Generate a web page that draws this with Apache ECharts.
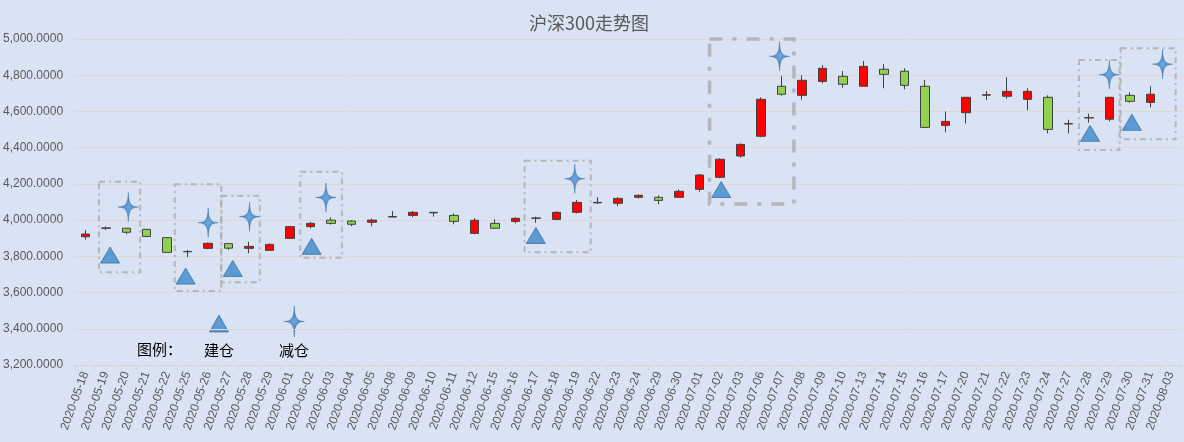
<!DOCTYPE html>
<html>
<head>
    <meta charset="utf-8">
    <title>沪深300走势图</title>
    <script src="https://cdn.jsdelivr.net/npm/echarts@6/dist/echarts.min.js"></script>
    <style>
        html, body { margin: 0; padding: 0; background: #DAE3F3; }
        #chart_box { width: 1184px; height: 442px; }
    </style>
</head>
<body>
    <div id="chart_box"></div>
    <script>
        // 交易日
        var dates = ['2020-05-18', '2020-05-19', '2020-05-20', '2020-05-21', '2020-05-22', '2020-05-25', '2020-05-26',
            '2020-05-27', '2020-05-28', '2020-05-29', '2020-06-01', '2020-06-02', '2020-06-03', '2020-06-04',
            '2020-06-05', '2020-06-08', '2020-06-09', '2020-06-10', '2020-06-11', '2020-06-12', '2020-06-15',
            '2020-06-16', '2020-06-17', '2020-06-18', '2020-06-19', '2020-06-22', '2020-06-23', '2020-06-24',
            '2020-06-29', '2020-06-30', '2020-07-01', '2020-07-02', '2020-07-03', '2020-07-06', '2020-07-07',
            '2020-07-08', '2020-07-09', '2020-07-10', '2020-07-13', '2020-07-14', '2020-07-15', '2020-07-16',
            '2020-07-17', '2020-07-20', '2020-07-21', '2020-07-22', '2020-07-23', '2020-07-24', '2020-07-27',
            '2020-07-28', '2020-07-29', '2020-07-30', '2020-07-31', '2020-08-03'];
        // 开盘, 收盘, 最低, 最高
        var kData = [
            [3908, 3923, 3892, 3945], [3955, 3957, 3945, 3965], [3955, 3933, 3921, 3957], [3949, 3910, 3905, 3950],
            [3903, 3822, 3820, 3905], [3825, 3827, 3795, 3835], [3844, 3872, 3840, 3876], [3870, 3845, 3835, 3872],
            [3844, 3855, 3817, 3881], [3833, 3866, 3830, 3871], [3899, 3964, 3897, 3968], [3964, 3982, 3954, 3991],
            [4000, 3982, 3975, 4015], [3995, 3977, 3966, 3999], [3988, 4000, 3966, 4008], [4017, 4020, 4016, 4050],
            [4026, 4043, 4016, 4050], [4043, 4040, 4019, 4045], [4026, 3993, 3977, 4037], [3927, 3999, 3922, 4010],
            [3982, 3955, 3953, 4004], [3993, 4010, 3982, 4015], [4010, 4012, 3986, 4019], [4004, 4043, 3999, 4048],
            [4043, 4098, 4037, 4111], [4095, 4098, 4089, 4127], [4093, 4120, 4078, 4126], [4126, 4137, 4120, 4142],
            [4126, 4109, 4087, 4137], [4126, 4159, 4122, 4170], [4170, 4249, 4157, 4255], [4236, 4336, 4231, 4341],
            [4354, 4418, 4345, 4424], [4463, 4667, 4457, 4678], [4739, 4695, 4687, 4796], [4689, 4772, 4665, 4800],
            [4766, 4838, 4755, 4856], [4794, 4750, 4731, 4823], [4739, 4849, 4739, 4879], [4833, 4805, 4728, 4862],
            [4822, 4744, 4722, 4838], [4739, 4512, 4510, 4774], [4523, 4545, 4485, 4600], [4593, 4678, 4534, 4680],
            [4690, 4692, 4663, 4713], [4684, 4711, 4670, 4789], [4667, 4711, 4606, 4728], [4678, 4501, 4479, 4689],
            [4531, 4533, 4479, 4554], [4564, 4566, 4538, 4588], [4557, 4678, 4545, 4680], [4689, 4656, 4648, 4706],
            [4650, 4695, 4623, 4739], '-'
        ];
        // 建仓 / 减仓 标记 [交易日序号, 点位]
        var buyPoints = [[1.21, 3807], [4.9, 3691], [7.2, 3733], [11.05, 3855], [22.0, 3915], [31.05, 4169], [49.06, 4479], [51.1, 4540]];
        var sellPoints = [[2.1, 4072], [6.0, 3986], [8.02, 4019], [11.75, 4125], [23.9, 4228], [33.9, 4904], [50.0, 4803], [52.6, 4861]];
        // 操作区间框 [起始序号, 结束序号, 上沿, 下沿]
        var boxes = [[0.67, 2.68, 4212, 3712], [4.37, 6.64, 4198, 3608], [6.64, 8.52, 4135, 3657], [10.5, 12.53, 4267, 3792],
            [21.45, 24.68, 4328, 3822], [30.48, 34.6, 5017, 4089], [48.52, 50.5, 4884, 4387], [50.55, 53.24, 4949, 4446]];
        var yTicks = [3200, 5000, 200];

        // 四角星 (20 x 29), 每段三次贝塞尔: 尖 -> 控制点1 -> 控制点2 -> 下一个尖
        var k1 = 0.24, k2 = 0.26;
        var starPath = 'path://M10,0 C10.3,11 12.5,14.2 20,14.5 C12.5,14.8 10.3,18 10,29 ' +
            'C9.7,18 7.5,14.8 0,14.5 C7.5,14.2 9.7,11 10,0 Z';
        var starFill = new echarts.graphic.RadialGradient(0.5, 0.5, 0.5, [
            { offset: 0, color: '#6FA8E0' },
            { offset: 1, color: '#3A74B0' }
        ]);

        // 图例用的星形 (以多边形近似同样的曲线)
        function starPoints(cx, cy, w, h) {
            var tips = [[0, -h / 2], [w / 2, 0], [0, h / 2], [-w / 2, 0]];
            var pts = [];
            for (var k = 0; k < 4; k++) {
                var a = tips[k], b = tips[(k + 1) % 4];
                // 控制点靠近中心
                var c1 = [a[0] * k1 + b[0] * 0.015, a[1] * k1 + b[1] * 0.015];
                var c2 = [b[0] * k2 + a[0] * 0.02, b[1] * k2 + a[1] * 0.02];
                for (var t = 0; t < 1; t += 0.1) {
                    var u = 1 - t;
                    pts.push([
                        cx + u * u * u * a[0] + 3 * u * u * t * c1[0] + 3 * u * t * t * c2[0] + t * t * t * b[0],
                        cy + u * u * u * a[1] + 3 * u * u * t * c1[1] + 3 * u * t * t * c2[1] + t * t * t * b[1]
                    ]);
                }
            }
            return pts;
        }

        function fmt(v) {
            var s = v.toFixed(4).split('.');
            return s[0].replace(/\B(?=(\d{3})+(?!\d))/g, ',') + '.' + s[1];
        }

        var boxData = boxes.map(function (b, i) {
            var thick = (i == 5);
            return [{
                coord: [b[0], b[2]],
                itemStyle: {
                    color: 'rgba(0,0,0,0)',
                    borderColor: 'rgba(170,170,170,0.8)',
                    borderWidth: thick ? 3.5 : 2,
                    borderType: thick ? [13, 10, 4, 10] : [6, 4, 2, 4]
                }
            }, { coord: [b[1], b[3]] }];
        });

        var myChart = echarts.init(document.getElementById('chart_box'));
        var font = "'Liberation Sans', 'Noto Sans CJK SC', sans-serif";
        var cjk = "15px 'Noto Sans CJK SC', sans-serif";
        var option = {
            backgroundColor: '#DAE3F3',
            animation: false,
            title: {
                text: '沪深300走势图',
                left: 524,
                top: 9,
                textStyle: { color: '#595959', fontSize: 18, fontWeight: 'normal', fontFamily: "'Noto Sans CJK SC', sans-serif" }
            },
            grid: { left: 72, right: 3, top: 39, bottom: 77 },
            xAxis: [{
                type: 'category',
                data: dates,
                boundaryGap: true,
                axisLine: { lineStyle: { color: '#D4D4D4' } },
                axisTick: { show: true, interval: 0, length: 5, lineStyle: { color: '#D4D4D4' } },
                axisLabel: { interval: 0, rotate: 70, fontSize: 12, color: '#595959', margin: 7, fontFamily: font },
                splitLine: { show: false }
            }, {
                type: 'value',
                min: -0.5,
                max: 53.5,
                show: false
            }],
            yAxis: {
                type: 'value',
                min: yTicks[0],
                max: yTicks[1],
                interval: yTicks[2],
                axisLine: { show: false },
                axisTick: { show: false },
                axisLabel: { formatter: fmt, fontSize: 12, color: '#595959', margin: 12, fontFamily: font },
                splitLine: { lineStyle: { color: '#D9D9D9' } }
            },
            series: [{
                name: '沪深300',
                type: 'candlestick',
                data: kData,
                barWidth: 9,
                itemStyle: {
                    color: '#FF0000',
                    color0: '#92D050',
                    borderColor: '#404040',
                    borderColor0: '#404040',
                    borderWidth: 1
                }
            }, {
                name: '建仓',
                type: 'scatter',
                xAxisIndex: 1,
                data: buyPoints,
                symbol: 'triangle',
                symbolSize: [19, 16],
                itemStyle: { color: '#5B9BD5', borderColor: '#41719C', borderWidth: 0.8, opacity: 1 },
                markArea: { silent: true, data: boxData },
                z: 5
            }, {
                name: '减仓',
                type: 'scatter',
                xAxisIndex: 1,
                data: sellPoints,
                symbol: starPath,
                symbolSize: [20, 29],
                itemStyle: { color: starFill, borderColor: '#41719C', borderWidth: 0.5, opacity: 1 },
                z: 6
            }],
            graphic: [
                { type: 'text', x: 137, y: 342, style: { text: '图例：', fill: '#000', font: cjk } },
                {
                    type: 'polygon',
                    shape: { points: [[209.5, 332], [228.5, 332], [219, 315]] },
                    style: { fill: '#5B9BD5', stroke: '#41719C', lineWidth: 0.8 }
                },
                { type: 'text', x: 204, y: 343, style: { text: '建仓', fill: '#000', font: cjk } },
                {
                    type: 'polygon',
                    shape: { points: starPoints(294.3, 321.5, 20, 31) },
                    style: { fill: starFill, stroke: '#41719C', lineWidth: 0.5 }
                },
                { type: 'text', x: 279, y: 343, style: { text: '减仓', fill: '#000', font: cjk } }
            ]
        };
        myChart.setOption(option);
    </script>
</body>
</html>
